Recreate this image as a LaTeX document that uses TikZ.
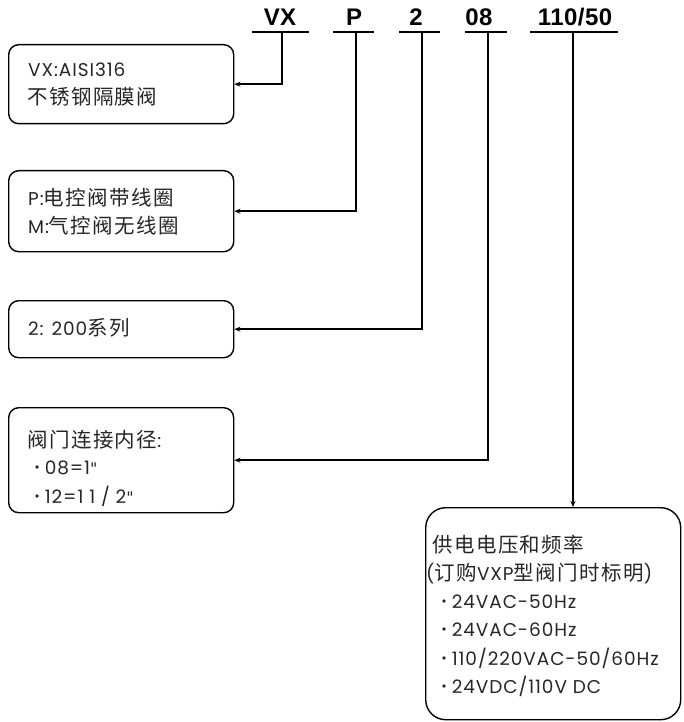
\documentclass[tikz,border=0pt]{standalone}
\usepackage{fontspec}
\setmainfont{Poppins}[LetterSpace=5]
\newfontfamily\cjkfam{Noto Sans CJK SC}[LetterSpace=7]
\newfontfamily\topfont{Liberation Sans}[LetterSpace=2]
\newfontfamily\qfam{DejaVu Sans}
\usetikzlibrary{arrows.meta}
\definecolor{ink}{HTML}{262626}
\newcommand{\zh}[1]{{\cjkfam\fontsize{20.5}{22}\selectfont #1}}
\newcommand{\qt}{{\qfam\fontsize{16}{20}\selectfont "}}
\tikzset{
  box/.style={draw, line width=1.4pt, rounded corners=10pt, inner sep=0pt, anchor=north west},
  bigbox/.style={box, rounded corners=20pt},
  txt/.style={anchor=base west, inner sep=0pt, text=ink, font=\fontsize{18.5}{22}\selectfont},
  code/.style={anchor=base, inner sep=0pt, text=black, font=\topfont\bfseries\fontsize{24}{28}\selectfont},
  uline/.style={line width=2.4pt},
  arr/.style={line width=1.8pt, -{Stealth[length=6pt,width=5pt]}},
}
\newcommand{\bul}{\raisebox{0.28em}{\tikz\fill[ink] (0,0) circle (1.8pt);}\hspace{6pt}}
\begin{document}
\begin{tikzpicture}[x=1pt,y=-1pt]
\useasboundingbox (0,0) rectangle (683,722);
% top code labels
\node[code] (cVX) at (280,26) {VX};
\node[code] (cP) at (354,26) {P};
\node[code] (c2) at (416,26) {2};
\node[code] (c08) at (479,26) {08};
\node[code] (c110) at (575,26) {110/50};
% underline coordinates
\coordinate (uVXa) at (252,32); \coordinate (uVXb) at (309,32);
\coordinate (uPa) at (333,32);  \coordinate (uPb) at (374,32);
\coordinate (u2a) at (399,32);  \coordinate (u2b) at (440,32);
\coordinate (u08a) at (465,32); \coordinate (u08b) at (507,32);
\coordinate (u110a) at (530,32); \coordinate (u110b) at (618,32);
\draw[uline] (uVXa) -- (uVXb);
\draw[uline] (uPa) -- (uPb);
\draw[uline] (u2a) -- (u2b);
\draw[uline] (u08a) -- (u08b);
\draw[uline] (u110a) -- (u110b);
\coordinate (sVX) at (282,32);
\coordinate (sP) at (356,32);
\coordinate (s2) at (422,32);
\coordinate (s08) at (488,32);
\coordinate (s110) at (573,32);
% boxes
\node[box, minimum width=225pt, minimum height=79pt] (b1) at (8,44) {};
\node[box, minimum width=225pt, minimum height=81pt] (b2) at (8,170) {};
\node[box, minimum width=225pt, minimum height=57pt] (b3) at (8,300) {};
\node[box, minimum width=225pt, minimum height=105pt] (b4) at (8,407) {};
\node[bigbox, minimum width=255pt, minimum height=212pt] (b5) at (425,507) {};
% texts
\node[txt] (t1a) at (28,77) {VX:AISI316};
\node[txt] (t1b) at (27,105) {\zh{不锈钢隔膜阀}};
\node[txt] (t2a) at (28,205) {P:\zh{电控阀带线圈}};
\node[txt] (t2b) at (28,233) {M:\zh{气控阀无线圈}};
\node[txt] (t3a) at (28,335) {2: 200\zh{系列}};
\node[txt] (t4a) at (27,447) {\zh{阀门连接内径}:};
\node[txt] (t4b) at (35,474) {\bul 08=1\qt};
\node[txt] (t4c) at (35,503) {\bul 12=1 1 / 2\qt};
\node[txt] (t5a) at (432,552) {\zh{供电电压和频率}};
\node[txt] (t5b) at (426,580) {(\zh{订购}VXP\zh{型阀门时标明})};
\node[txt] (t5c) at (442,608) {\bul 24VAC-50Hz};
\node[txt] (t5d) at (442,636) {\bul 24VAC-60Hz};
\node[txt] (t5e) at (442,665) {\bul 110/220VAC-50/60Hz};
\node[txt] (t5f) at (442,693) {\bul 24VDC/110V DC};
% connectors
\draw[arr] (sVX) |- (b1.east);
\draw[arr] (sP) |- (b2.east);
\draw[arr] (s2) |- (b3.east);
\draw[arr] (s08) |- (b4.east);
\draw[arr] (s110) -- (s110 |- b5.north);
\end{tikzpicture}
\end{document}
